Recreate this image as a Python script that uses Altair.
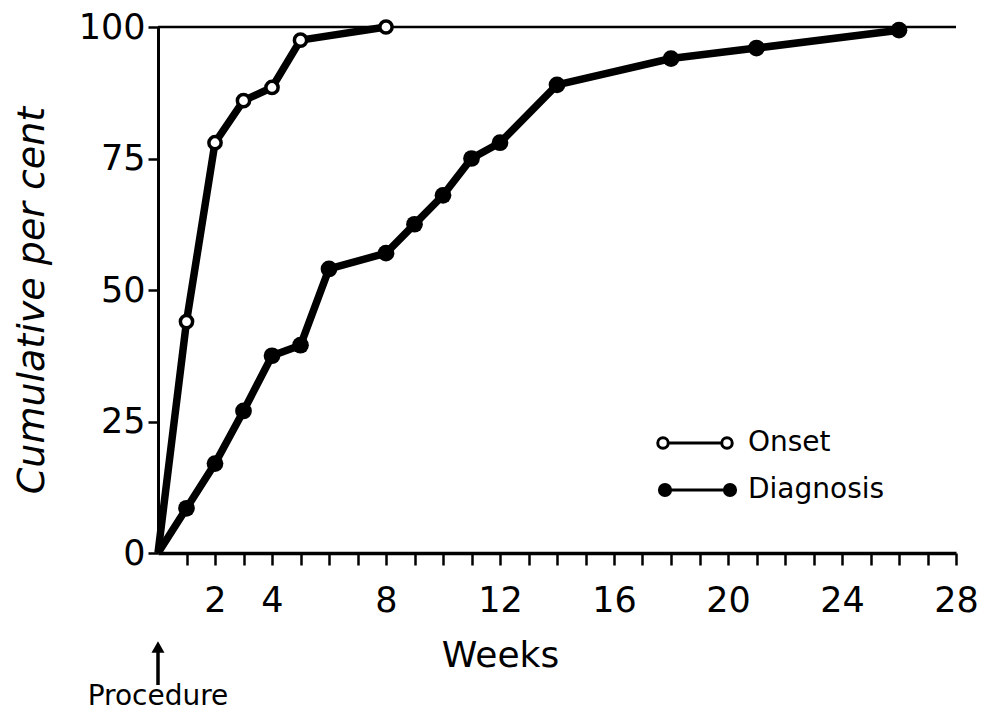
import altair as alt
import pandas as pd

# ---- data ----
onset_weeks = [0, 1, 2, 3, 4, 5, 8]
onset_pct = [0, 44, 78, 86, 88.5, 97.5, 100]

diag_weeks = [0, 1, 2, 3, 4, 5, 6, 8, 9, 10, 11, 12, 14, 18, 21, 26]
diag_pct = [0, 8.5, 17, 27, 37.5, 39.5, 54, 57, 62.5, 68, 75, 78, 89, 94, 96, 99.4]

x_ticks = list(range(1, 29))
x_labels = [2, 4, 8, 12, 16, 20, 24, 28]
y_ticks = [0, 25, 50, 75, 100]

FONT = "DejaVu Sans"

onset = pd.DataFrame({"week": onset_weeks, "pct": onset_pct})
diag = pd.DataFrame({"week": diag_weeks, "pct": diag_pct})
ref = pd.DataFrame({"week": [0], "week2": [28], "pct": [100]})
dummy = pd.DataFrame({"d": [0]})

label_list = ",".join(str(v) for v in x_labels)
x_enc = alt.X(
    "week:Q",
    scale=alt.Scale(domain=[0, 28], nice=False, zero=True),
    axis=alt.Axis(
        values=x_ticks,
        labelExpr=f"indexof([{label_list}], datum.value) >= 0 ? datum.label : ''",
        title="Weeks",
        titleFont=FONT, titleFontSize=36, titleFontWeight="normal", titleColor="black",
        titleX=342, titleY=102, titleAlign="center", titleBaseline="middle",
        labelFont=FONT, labelFontSize=35, labelColor="black", labelPadding=18,
        tickSize=12, tickWidth=2.5, tickColor="black",
        domainWidth=3.5, domainColor="black", grid=False, labelFlush=False,
        labelOverlap=False,
    ),
)
y_enc = alt.Y(
    "pct:Q",
    scale=alt.Scale(domain=[0, 100], nice=False),
    axis=alt.Axis(
        values=y_ticks,
        title="Cumulative per cent",
        titleFont=FONT, titleFontSize=38, titleFontWeight="normal", titleFontStyle="italic",
        titleColor="black", titleX=-126, titleY=273, titleAlign="center",
        titleBaseline="middle", titleAngle=-90,
        labelFont=FONT, labelFontSize=35, labelColor="black", labelPadding=3,
        tickSize=10, tickWidth=2.5, tickColor="black",
        domainWidth=3, domainColor="black", grid=False,
    ),
)

rule100 = alt.Chart(ref).mark_rule(color="black", strokeWidth=2.5).encode(
    x=x_enc, x2="week2", y=y_enc
)

line_on = alt.Chart(onset).mark_line(color="black", strokeWidth=7.5).encode(x=x_enc, y=y_enc)
line_dg = alt.Chart(diag).mark_line(color="black", strokeWidth=7.5).encode(x=x_enc, y=y_enc)

pts_on = alt.Chart(onset).transform_filter("datum.week > 0").mark_point(
    shape="circle", filled=True, fill="white", stroke="black", strokeWidth=3.5, size=150, opacity=1
).encode(x=x_enc, y=y_enc)
pts_dg = alt.Chart(diag).transform_filter("datum.week > 0").mark_circle(
    color="black", size=280, opacity=1
).encode(x=x_enc, y=y_enc)

# ---- legend (drawn by hand) ----
leg = []
leg.append(alt.Chart(dummy).mark_rule(color="black", strokeWidth=3).encode(
    x=alt.value(505), x2=alt.value(569), y=alt.value(416)))
for px in (505, 569):
    leg.append(alt.Chart(dummy).mark_point(
        shape="circle", filled=True, fill="white", stroke="black", strokeWidth=3, size=110, opacity=1
    ).encode(x=alt.value(px), y=alt.value(416)))
leg.append(alt.Chart(dummy).mark_rule(color="black", strokeWidth=3).encode(
    x=alt.value(507), x2=alt.value(572), y=alt.value(463)))
for px in (507, 572):
    leg.append(alt.Chart(dummy).mark_circle(color="black", size=200, opacity=1).encode(
        x=alt.value(px), y=alt.value(463)))
leg.append(alt.Chart(dummy).mark_text(
    align="left", baseline="middle", font=FONT, fontSize=28, color="black"
).encode(x=alt.value(590), y=alt.value(416), text=alt.value("Onset")))
leg.append(alt.Chart(dummy).mark_text(
    align="left", baseline="middle", font=FONT, fontSize=28, color="black"
).encode(x=alt.value(590), y=alt.value(463), text=alt.value("Diagnosis")))

# ---- Procedure arrow ----
arrow_shaft = alt.Chart(dummy).mark_rule(color="black", strokeWidth=3.5).encode(
    x=alt.value(0), y=alt.value(622), y2=alt.value(658))
arrow_head = alt.Chart(dummy).mark_point(
    shape="triangle-up", filled=True, color="black", size=170, opacity=1
).encode(x=alt.value(0), y=alt.value(620))
proc_text = alt.Chart(dummy).mark_text(
    align="center", baseline="middle", font=FONT, fontSize=28, color="black"
).encode(x=alt.value(0), y=alt.value(670), text=alt.value("Procedure"))

chart = alt.layer(
    rule100, line_dg, line_on, pts_dg, pts_on, *leg, arrow_shaft, arrow_head, proc_text
).properties(
    width=798, height=526,
    padding={"left": 150, "top": 19, "right": 24, "bottom": 160},
    autosize=alt.AutoSizeParams(type="none"),
    background="white",
).configure_view(strokeWidth=0)

chart.save("out.html", embed_options={"renderer": "svg", "actions": False})
